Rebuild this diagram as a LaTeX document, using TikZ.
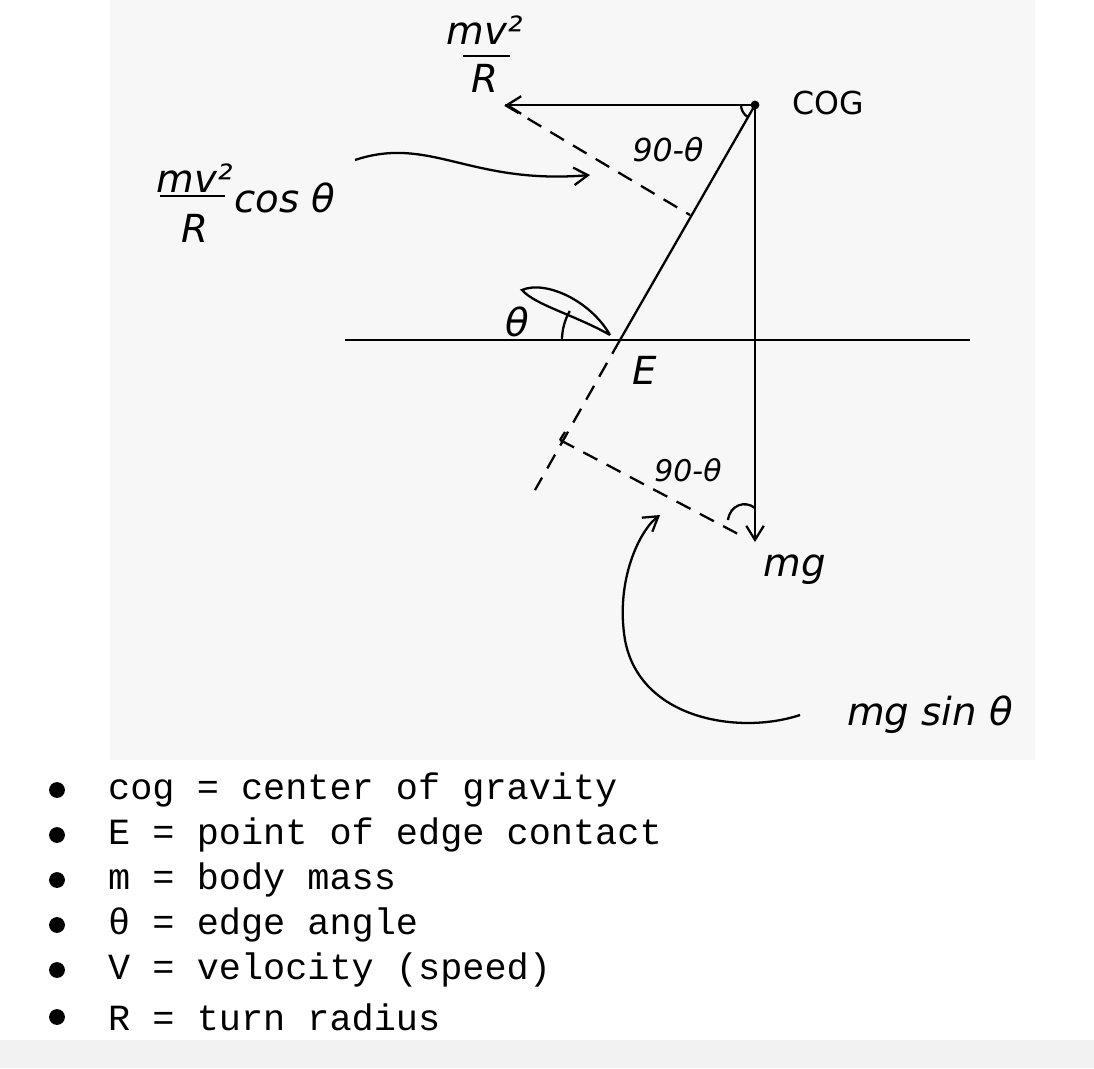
\documentclass[tikz,border=0pt]{standalone}
\usepackage{fontspec}
\setmainfont{DejaVu Sans}
\newfontfamily\monof{Liberation Mono}
\usetikzlibrary{arrows.meta}
\begin{document}
\begin{tikzpicture}[x=0.02cm,y=-0.02cm,
  ln/.style={line width=1.3pt,black},
  ds/.style={ln,dash pattern=on 9pt off 6pt},
  ar/.style={ln,-{Straight Barb[length=8pt,width=10pt]}},
  lab/.style={font=\fontsize{22}{24}\selectfont\itshape},
  bl/.style={anchor=west,font=\monof\fontsize{21}{24}\selectfont}]
\useasboundingbox (0,0) rectangle (1094,1068);
\fill[gray!6] (110,0) rectangle (1035,760);
\fill[gray!10] (0,1040) rectangle (1094,1068);
\coordinate (cog) at (755,105);
\coordinate (e) at (620,340);
\coordinate (cf) at (505,105);
\coordinate (foot) at (690,215);
\coordinate (mg) at (755,542);
\coordinate (ext) at (535,490);
\coordinate (tick) at (560,440);
\fill (cog) circle (2.5pt);
\draw[ln] (345,340) -- (970,340);
\draw[ln] (e) -- (cog);
\draw[ar] (cog) -- (cf);
\draw[ar] (cog) -- (mg);
\draw[ds] (cf) -- (foot);
\draw[ds] (e) -- (ext);
\draw[ds] (tick) -- (740,535);
\draw[ln] (tick) -- (565,432);
\draw[ln] (741,105) arc (180:120:14);
\draw[ln] (562,340) arc (180:210:58);
\draw[ln] (610,335) .. controls (590,300) and (545,280) .. (522,290) .. controls (535,305) and (575,315) .. (610,335);
\draw[ln] (728,520) .. controls (730,505) and (745,500) .. (755,508);
\draw[ar] (355,160) .. controls (430,135) and (470,185) .. (590,175);
\draw[ar] (800,715) .. controls (740,735) and (640,720) .. (625,640) .. controls (615,580) and (640,530) .. (660,515);
\node[lab] (t1) at (485,30) {mv²};
\draw[ln] (463,56) -- (510,56);
\node[lab] (t1b) at (485,78) {R};
\node[lab] (t2) at (195,178) {mv²};
\draw[ln] (160,196) -- (225,196);
\node[lab] (t2b) at (195,228) {R};
\node[lab] (t2c) at (285,198) {cos θ};
\node[lab,font=\fontsize{18}{20}\selectfont\itshape] (t3) at (668,150) {90-θ};
\node[lab] (t4) at (517,322) {θ};
\node[lab] (t5) at (645,370) {E};
\node[lab,font=\fontsize{17}{20}\selectfont\itshape] (t6) at (688,470) {90-θ};
\node[lab] (t7) at (795,570) {mg};
\node[lab] (t8) at (930,715) {mg sin θ};
\node[lab,font=\fontsize{18}{20}\selectfont] (t9) at (828,103) {COG};
\foreach \y/\t in {790/{cog = center of gravity},835/{E = point of edge contact},880/{m = body mass},925/{θ = edge angle},970/{V = velocity (speed)},1017/{R = turn radius}}{
  \fill (57,\y) circle (4.5pt);
  \node[bl] at (102,\y) {\t};
}
\end{tikzpicture}
\end{document}
